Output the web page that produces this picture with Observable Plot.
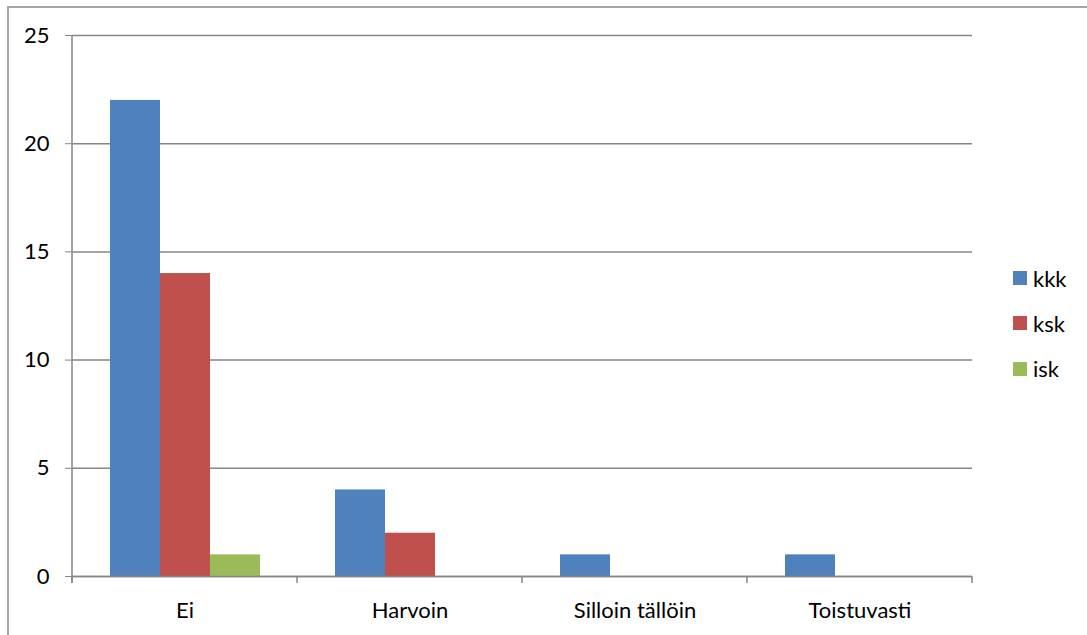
<!DOCTYPE html>
<html>
<head>
<meta charset="utf-8">
<script src="https://cdn.jsdelivr.net/npm/d3@7"></script>
<script src="https://cdn.jsdelivr.net/npm/@observablehq/plot@0.6"></script>
<style>
  html, body { margin: 0; padding: 0; background: #fff; }
  #wrap { position: relative; width: 1087px; height: 635px; overflow: hidden; font-family: Lato, "Liberation Sans", sans-serif; }
  #frame { position: absolute; left: 7px; top: 6px; width: 1200px; height: 800px; border-left: 2px solid #a6a6a6; border-top: 2px solid #a6a6a6; box-sizing: border-box; }
  #chart { position: absolute; left: 0; top: 0; }
  #legend { position: absolute; left: 1013px; top: 267px; font-size: 22px; color: #000; }
  .item { display: flex; align-items: center; height: 22px; margin-bottom: 23.3px; }
  .sw { width: 14px; height: 14px; margin-right: 6px; }
  #chart svg text { font-size: 22px; fill: #000; }
  svg [aria-label^="y-axis"] line, svg [aria-label^="y-axis"] path { stroke: #868686; }
</style>
</head>
<body>
<div id="wrap">
  <div id="frame"></div>
  <div id="chart"></div>
  <div id="legend"></div>
</div>
<script>
const categories = ["Ei", "Harvoin", "Silloin tällöin", "Toistuvasti"];
const series = ["kkk", "ksk", "isk"];
const kkk = [22, 4, 1, 1];
const ksk = [14, 2, 0, 0];
const isk = [1, 0, 0, 0];
const yTicks = [0, 5, 10, 15, 20, 25];
const colors = ["#4F81BD", "#C0504D", "#9BBB59"];

const seriesValues = [kkk, ksk, isk];
const data = categories.flatMap((c, i) =>
  series.map((s, j) => ({category: c, series: s, value: seriesValues[j][i]}))
);

const plot = Plot.plot({
  width: 1087,
  height: 635,
  marginLeft: 72,
  marginRight: 115,
  marginTop: 35,
  marginBottom: 59,
  style: {fontFamily: "Lato, 'Liberation Sans', sans-serif", fontSize: "22px", color: "#000", background: "transparent", overflow: "visible"},
  fx: {domain: categories, padding: 0, label: null, axis: "bottom", tickSize: 0, tickPadding: 26},
  x: {domain: series, paddingInner: 0, paddingOuter: 0.75, axis: null},
  y: {domain: [0, 25], ticks: yTicks, tickSize: 7, tickPadding: 16, label: null, tickFormat: d3.format("d")},
  color: {domain: series, range: colors},
  marks: [
    Plot.ruleY(yTicks, {stroke: "#868686", strokeWidth: 1.5}),
    Plot.barY(data.filter(d => d.value > 0), {fx: "category", x: "series", y: "value", fill: "series"}),
    Plot.ruleY([0], {stroke: "#868686", strokeWidth: 1.5})
  ]
});

document.getElementById("chart").appendChild(plot);

// axis line and category boundary ticks, positioned with Plot's own scales
const fx = plot.scale("fx");
const ys = plot.scale("y");
const y0 = ys.apply(0);
const yTop = ys.apply(25);
const bw = fx.bandwidth;
const bounds = categories.map(c => fx.apply(c)).concat([fx.apply(categories[categories.length - 1]) + bw]);
const svg = d3.select(plot);
const g = svg.append("g").attr("stroke", "#868686").attr("stroke-width", 1.5);
g.append("line").attr("x1", bounds[0]).attr("x2", bounds[0]).attr("y1", yTop).attr("y2", y0 + 7);
g.selectAll("line.b").data(bounds).join("line").attr("class", "b")
  .attr("x1", d => d).attr("x2", d => d).attr("y1", y0).attr("y2", y0 + 7);

// legend
const legend = d3.select("#legend");
series.forEach((s, i) => {
  const it = legend.append("div").attr("class", "item");
  it.append("div").attr("class", "sw").style("background", colors[i]);
  it.append("span").text(s);
});
</script>
</body>
</html>
